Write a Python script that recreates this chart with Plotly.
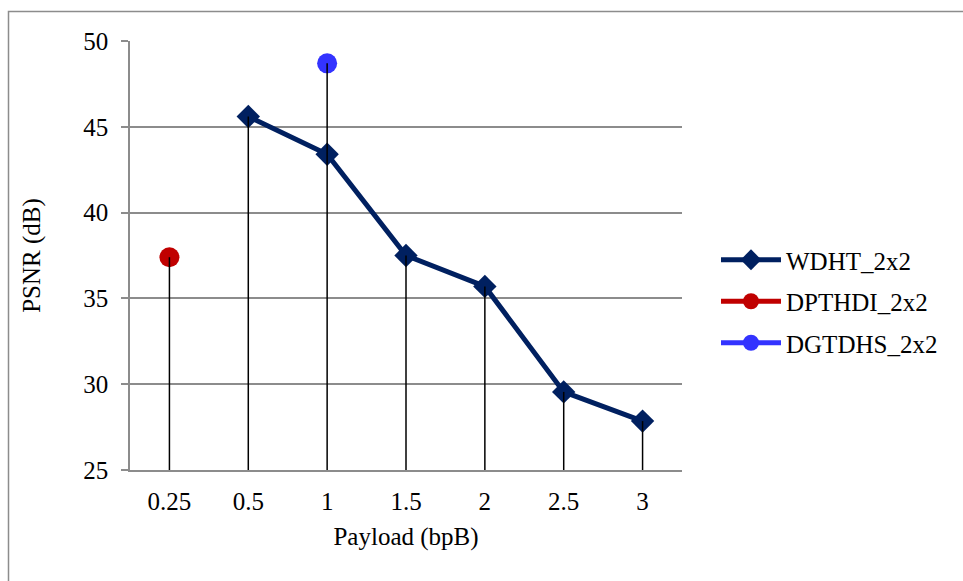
import plotly.graph_objects as go

categories = ["0.25", "0.5", "1", "1.5", "2", "2.5", "3"]
wdht = [None, 45.6, 43.4, 37.5, 35.7, 29.55, 27.85]
dpthdi = [37.4, None, None, None, None, None, None]
dgtdhs = [None, None, 48.7, None, None, None, None]

y_min, y_max = 25, 50

fig = go.Figure()

fig.add_trace(go.Scatter(
    x=categories, y=wdht, name="WDHT_2x2", mode="lines+markers",
    line=dict(color="#002060", width=5),
    marker=dict(symbol="diamond", size=18, color="#002060"),
    legendgroup="a", connectgaps=False))
fig.add_trace(go.Scatter(
    x=categories, y=dpthdi, name="DPTHDI_2x2", mode="lines+markers",
    line=dict(color="#C00000", width=5),
    marker=dict(symbol="circle", size=20, color="#C00000"),
    legendgroup="b"))
fig.add_trace(go.Scatter(
    x=categories, y=dgtdhs, name="DGTDHS_2x2", mode="lines+markers",
    line=dict(color="#3333FF", width=5),
    marker=dict(symbol="circle", size=20, color="#3333FF"),
    legendgroup="c"))

# drop lines from the highest point of each category to the axis
dx, dy = [], []
for i, c in enumerate(categories):
    vals = [s[i] for s in (wdht, dpthdi, dgtdhs) if s[i] is not None]
    if vals:
        dx += [c, c, None]
        dy += [y_min, max(vals), None]
fig.add_trace(go.Scatter(x=dx, y=dy, mode="lines", showlegend=False,
                         line=dict(color="black", width=1.5), hoverinfo="skip"))

L, R, T, B = 130, 281, 41, 111
W, H = 963, 581
pw, ph = W - L - R, H - T - B
FAM = "Liberation Serif, serif"

fig.update_layout(
    width=W, height=H,
    margin=dict(l=L, r=R, t=T, b=B),
    paper_bgcolor="white", plot_bgcolor="white",
    font=dict(family=FAM, size=25, color="black"),
    showlegend=True,
    legend=dict(x=(716 - L) / pw, y=(470 - 237) / ph, xanchor="left", yanchor="top",
                font=dict(family=FAM, size=25), tracegroupgap=6, traceorder="grouped",
                bgcolor="rgba(0,0,0,0)", itemwidth=60),
    xaxis=dict(type="category", range=[-0.5, 6.5], showgrid=False,
               showline=True, linecolor="#8c8c8c", linewidth=1.5,
               ticks="", ticklabelstandoff=8, zeroline=False,
               tickfont=dict(family=FAM, size=25),
               title=dict(text="Payload (bpB)", standoff=14, font=dict(family=FAM, size=25))),
    yaxis=dict(range=[y_min, y_max], dtick=5, showgrid=True, gridcolor="#8c8c8c",
               gridwidth=1.5, showline=True, linecolor="#8c8c8c", linewidth=1.5,
               ticks="outside", ticklen=7, tickcolor="#8c8c8c", tickwidth=1.5,
               ticklabelstandoff=8, zeroline=False,
               tickfont=dict(family=FAM, size=25),
               title=dict(text="PSNR (dB)", standoff=36, font=dict(family=FAM, size=25))),
    shapes=[dict(type="rect", xref="paper", yref="paper",
                 x0=(8.5 - L) / pw, x1=(975 - L) / pw,
                 y0=(470 - 600) / ph, y1=(470 - 11.5) / ph,
                 line=dict(color="#8c8c8c", width=1.5), fillcolor="rgba(0,0,0,0)",
                 layer="below")],
)

fig.write_html("out.html")
